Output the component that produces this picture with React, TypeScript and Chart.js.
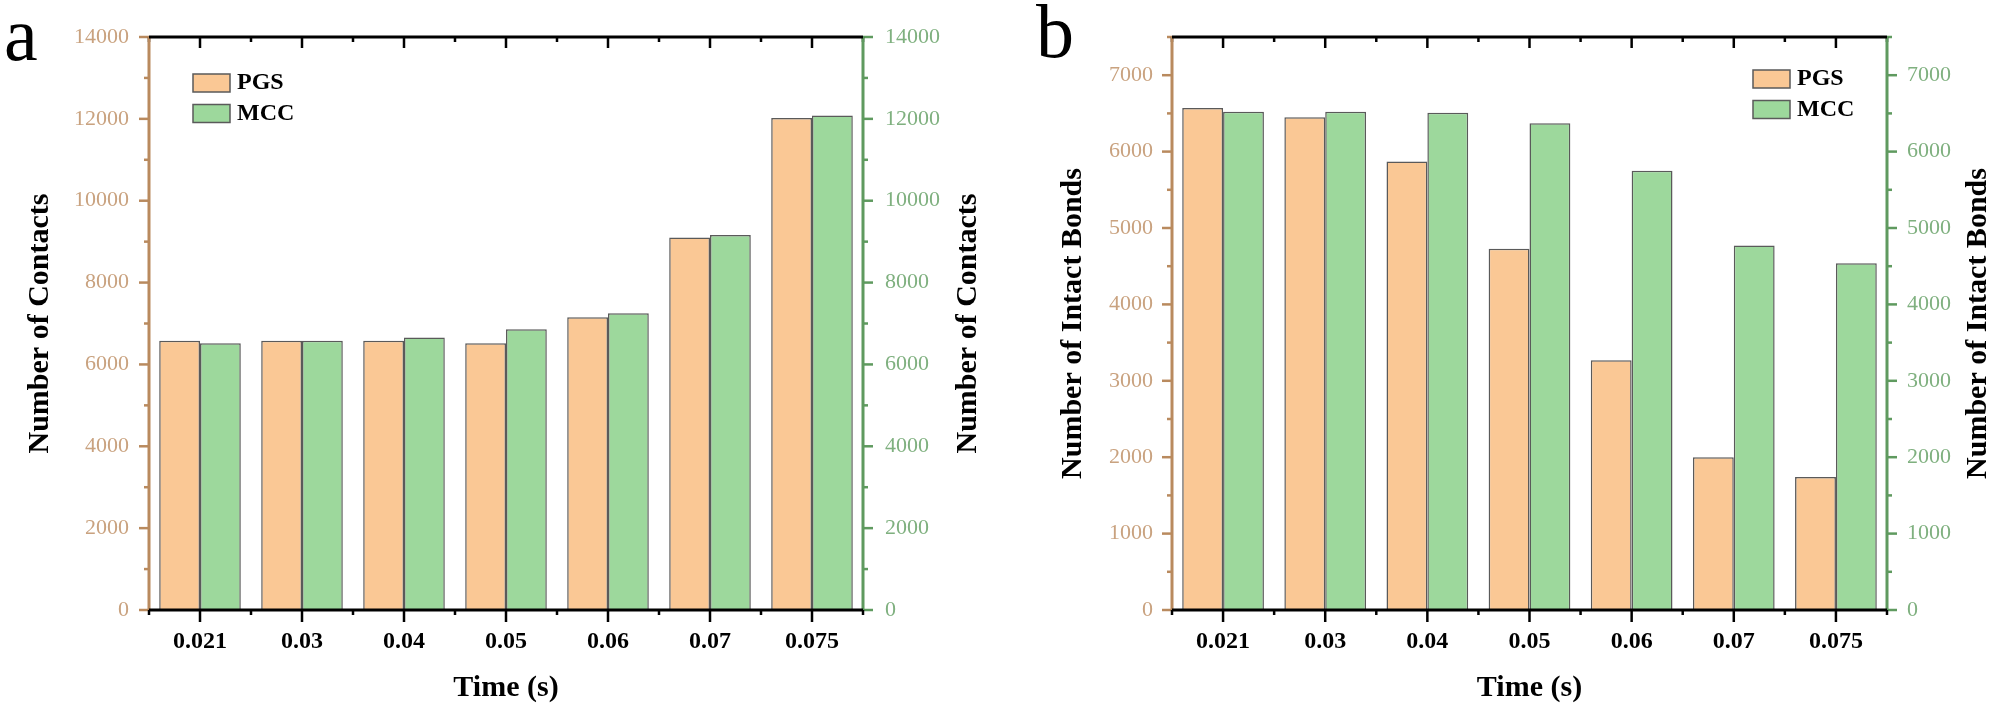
import React, { useEffect, useRef } from "react";
import { Chart, registerables } from "chart.js";

Chart.register(...registerables);

// ---------- data ----------
const categories = ["0.021", "0.03", "0.04", "0.05", "0.06", "0.07", "0.075"];
const seriesNames = ["PGS", "MCC"];

const contactsPGS = [6580, 6580, 6580, 6520, 7150, 9100, 12020];
const contactsMCC = [6520, 6580, 6660, 6860, 7250, 9160, 12080];

const bondsPGS = [6570, 6450, 5870, 4730, 3270, 2000, 1740];
const bondsMCC = [6520, 6520, 6510, 6370, 5750, 4770, 4540];

const contactsAxisMax = 14000;
const contactsAxisStep = 2000;
const contactsTicks = [0, 2000, 4000, 6000, 8000, 10000, 12000, 14000];
const bondsAxisMax = 7500;
const bondsAxisStep = 1000;
const bondsTicks = [0, 1000, 2000, 3000, 4000, 5000, 6000, 7000];

const xTitle = "Time (s)";
const contactsTitle = "Number of Contacts";
const bondsTitle = "Number of Intact Bonds";

// ---------- style ----------
const FONT = "'Liberation Serif', 'Times New Roman', Times, serif";
const PGS_FILL = "#fac895";
const MCC_FILL = "#9dd89c";
const BAR_BORDER = "#5a5a5a";
const TAN_LINE = "#b98a5e";
const TAN_TEXT = "#c9a27f";
const GREEN_LINE = "#5f9a5f";
const GREEN_TEXT = "#7fb07f";
const FILLS = [PGS_FILL, MCC_FILL];

interface PanelSpec {
  left: number;
  letter: string;
  letterX: number;
  letterY: number;
  yTitle: string;
  leftTitleX: number;
  rightTitleX: number;
  legendLeft: (ca: any) => number;
  legendTop: number;
  max: number;
  step: number;
  ticks: number[];
  pgs: number[];
  mcc: number[];
  leftWidth: number;
  rightWidth: number;
  leftPad: number;
  rightPad: number;
}

function makeDecor(spec: PanelSpec) {
  return {
    id: "decor",
    afterDraw(chart: any) {
      const ctx: CanvasRenderingContext2D = chart.ctx;
      const ca = chart.chartArea;
      const xs = chart.scales.x;
      const yl = chart.scales.y;
      const yr = chart.scales.y2;
      const line = (x1: number, y1: number, x2: number, y2: number) => {
        ctx.beginPath();
        ctx.moveTo(x1, y1);
        ctx.lineTo(x2, y2);
        ctx.stroke();
      };
      ctx.save();
      ctx.lineCap = "butt";

      // y ticks (major + minor)
      const half = spec.step / 2;
      for (let v = 0; v <= spec.max + 1e-6; v += half) {
        const r = v / spec.step;
        const major = Math.abs(r - Math.round(r)) < 1e-6;
        const len = major ? 10 : 5;
        ctx.lineWidth = 2.5;
        ctx.strokeStyle = TAN_LINE;
        const pl = yl.getPixelForValue(v);
        line(ca.left, pl, ca.left - len, pl);
        ctx.strokeStyle = GREEN_LINE;
        const pr = yr.getPixelForValue(v);
        line(ca.right, pr, ca.right + len, pr);
      }

      // x ticks
      ctx.strokeStyle = "#000";
      ctx.lineWidth = 2.5;
      for (let i = 0; i < categories.length; i++) {
        const px = xs.getPixelForValue(i);
        line(px, ca.bottom, px, ca.bottom + 12);
        line(px, ca.top, px, ca.top + 11);
      }
      for (let i = 0; i <= categories.length; i++) {
        const px = xs.getPixelForValue(i - 0.5);
        line(px, ca.bottom, px, ca.bottom + 5);
        line(px, ca.top, px, ca.top + 5);
      }

      // axis lines
      ctx.lineWidth = 3;
      ctx.strokeStyle = TAN_LINE;
      line(ca.left, ca.top - 1, ca.left, ca.bottom);
      ctx.strokeStyle = GREEN_LINE;
      line(ca.right, ca.top - 1, ca.right, ca.bottom);
      ctx.strokeStyle = "#000";
      line(ca.left, ca.top, ca.right, ca.top);
      line(ca.left, ca.bottom, ca.right, ca.bottom);

      // y titles
      ctx.font = `bold 30px ${FONT}`;
      ctx.fillStyle = "#000";
      ctx.textAlign = "center";
      ctx.textBaseline = "middle";
      const cy = (ca.top + ca.bottom) / 2;
      ctx.save();
      ctx.translate(spec.leftTitleX, cy);
      ctx.rotate(-Math.PI / 2);
      ctx.fillText(spec.yTitle, 0, 0);
      ctx.restore();
      ctx.save();
      ctx.translate(spec.rightTitleX, cy);
      ctx.rotate(-Math.PI / 2);
      ctx.fillText(spec.yTitle, 0, 0);
      ctx.restore();

      // legend
      const lx = spec.legendLeft(ca);
      ctx.font = `bold 24px ${FONT}`;
      ctx.textAlign = "left";
      ctx.textBaseline = "middle";
      chart.data.datasets.forEach((ds: any, i: number) => {
        const by = ca.top + spec.legendTop + i * 30.5;
        ctx.fillStyle = ds.backgroundColor;
        ctx.fillRect(lx, by, 37, 18);
        ctx.lineWidth = 1.5;
        ctx.strokeStyle = BAR_BORDER;
        ctx.strokeRect(lx, by, 37, 18);
        ctx.fillStyle = "#000";
        ctx.fillText(ds.label, lx + 44, by + 9);
      });

      // panel letter
      ctx.font = `76px ${FONT}`;
      ctx.textAlign = "left";
      ctx.textBaseline = "alphabetic";
      ctx.fillStyle = "#000";
      ctx.fillText(spec.letter, spec.letterX, spec.letterY);

      ctx.restore();
    },
  };
}

function Panel({ spec }: { spec: PanelSpec }) {
  const ref = useRef<HTMLCanvasElement>(null);
  useEffect(() => {
    const canvas = ref.current!;
    const yAxis = (position: string, color: string, pad: number, width: number) => ({
      type: "linear",
      position,
      min: 0,
      max: spec.max,
      grid: { display: false, drawTicks: false },
      border: { display: false },
      afterBuildTicks: (s: any) => {
        s.ticks = spec.ticks.map((v) => ({ value: v }));
      },
      ticks: {
        color,
        font: { family: FONT, size: 22 },
        padding: pad,
        callback: (v: any) => String(v),
      },
      afterFit: (s: any) => {
        s.width = width;
      },
    });
    const chart = new Chart(canvas, {
      type: "bar",
      data: {
        labels: categories,
        datasets: [
          {
            label: seriesNames[0],
            data: spec.pgs,
            backgroundColor: FILLS[0],
            borderColor: BAR_BORDER,
            borderWidth: 1.5,
            yAxisID: "y",
          },
          {
            label: seriesNames[1],
            data: spec.mcc,
            backgroundColor: FILLS[1],
            borderColor: BAR_BORDER,
            borderWidth: 1.5,
            yAxisID: "y2",
          },
        ],
      },
      options: {
        responsive: false,
        animation: false,
        devicePixelRatio: 1,
        layout: { padding: { left: 0, right: 0, top: 37, bottom: 0 } },
        datasets: { bar: { categoryPercentage: 0.8, barPercentage: 1.0 } },
        plugins: {
          legend: { display: false },
          tooltip: { enabled: false },
        },
        scales: {
          x: {
            type: "category",
            offset: true,
            grid: { display: false, drawTicks: false },
            border: { display: false },
            ticks: {
              color: "#000",
              font: { family: FONT, size: 24, weight: "bold" },
              padding: 17,
              maxRotation: 0,
              autoSkip: false,
            },
            title: {
              display: true,
              text: xTitle,
              color: "#000",
              font: { family: FONT, size: 30, weight: "bold" },
              padding: { top: 0, bottom: 8 },
            },
            afterFit: (s: any) => {
              s.height = 104;
            },
          },
          y: yAxis("left", TAN_TEXT, spec.leftPad, spec.leftWidth),
          y2: yAxis("right", GREEN_TEXT, spec.rightPad, spec.rightWidth),
        },
      } as any,
      plugins: [makeDecor(spec)],
    });
    return () => chart.destroy();
  }, []);
  return (
    <canvas
      ref={ref}
      width={998}
      height={714}
      style={{ position: "absolute", left: spec.left, top: 0, width: 998, height: 714 }}
    />
  );
}

const panelA: PanelSpec = {
  left: 0,
  letter: "a",
  letterX: 4,
  letterY: 60,
  yTitle: contactsTitle,
  leftTitleX: 40,
  rightTitleX: 968,
  legendLeft: (ca: any) => ca.left + 44,
  legendTop: 37,
  max: contactsAxisMax,
  step: contactsAxisStep,
  ticks: contactsTicks,
  pgs: contactsPGS,
  mcc: contactsMCC,
  leftWidth: 149,
  rightWidth: 135,
  leftPad: 20,
  rightPad: 22,
};

const panelB: PanelSpec = {
  left: 998,
  letter: "b",
  letterX: 38,
  letterY: 57,
  yTitle: bondsTitle,
  leftTitleX: 75,
  rightTitleX: 980,
  legendLeft: (ca: any) => ca.right - 134,
  legendTop: 33,
  max: bondsAxisMax,
  step: bondsAxisStep,
  ticks: bondsTicks,
  pgs: bondsPGS,
  mcc: bondsMCC,
  leftWidth: 174,
  rightWidth: 109,
  leftPad: 19,
  rightPad: 20,
};

export default function App() {
  return (
    <div style={{ position: "fixed", left: 0, top: 0, width: 1996, height: 714, background: "#fff" }}>
      <Panel spec={panelA} />
      <Panel spec={panelB} />
    </div>
  );
}
